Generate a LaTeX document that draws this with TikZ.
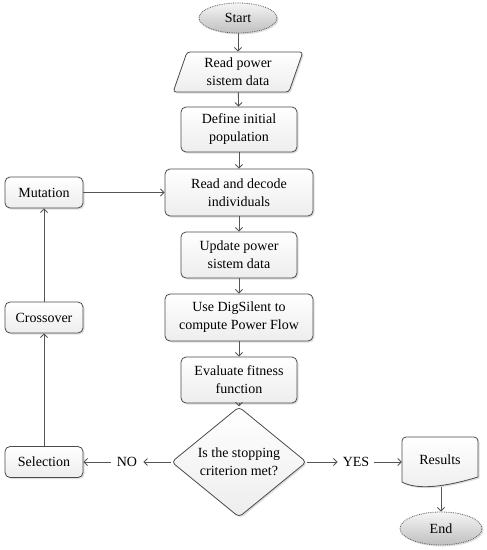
\documentclass[tikz,border=0pt]{standalone}
\usepackage{fontspec}
\setmainfont{Liberation Serif}
\usetikzlibrary{shapes.geometric,arrows.meta,shadows,positioning}
\definecolor{edge}{HTML}{4A4A4A}
\definecolor{arr}{HTML}{555555}
\tikzset{
  base/.style={draw=edge, line width=0.8pt, align=center, inner sep=2pt,
    font=\fontsize{14}{18}\selectfont, text=black,
    drop shadow={opacity=0.25, shadow xshift=1.5pt, shadow yshift=-1.5pt}},
  procbox/.style={base, rectangle, rounded corners=5pt, top color=white, bottom color=gray!14},
  termbox/.style={base, ellipse, densely dotted, draw=gray!70!black, top color=gray!8, bottom color=gray!50},
  iobox/.style={base, trapezium, trapezium left angle=73, trapezium right angle=107,
    trapezium stretches=true, rounded corners=3pt, top color=white, bottom color=gray!14},
  decbox/.style={base, diamond, rounded corners=4pt, top color=white, bottom color=gray!14, inner sep=0pt},
  lbl/.style={font=\fontsize{14}{18}\selectfont, inner sep=1pt},
  flow/.style={draw=arr, line width=0.9pt, -{Straight Barb[length=3.5pt,width=7pt]}}
}
\begin{document}
\begin{tikzpicture}[x=1pt,y=-1pt]
\useasboundingbox (0,0) rectangle (487,550);
\node[termbox, minimum width=78pt, minimum height=30pt] (start) at (238,18) {Start};
\node[iobox, minimum width=130pt, minimum height=40pt] (read) at (238,72) {Read power\\sistem data};
\node[procbox, minimum width=116pt, minimum height=45pt] (def) at (239,129.5) {Define initial\\population};
\node[procbox, minimum width=148pt, minimum height=47pt] (dec) at (239,192.5) {Read and decode\\individuals};
\node[procbox, minimum width=116pt, minimum height=46pt] (upd) at (239,255) {Update power\\sistem data};
\node[procbox, minimum width=148pt, minimum height=47pt] (dig) at (239,317.5) {Use DigSilent to\\compute Power Flow};
\node[procbox, minimum width=116pt, minimum height=46pt] (eval) at (239,380) {Evaluate fitness\\function};
\node[decbox, minimum width=135pt, minimum height=81pt] (stop) at (239,462) {Is the stopping\\criterion met?};
\node[lbl] (yes) at (356,462) {YES};
\node[lbl] (no) at (127,462) {NO};
% Results document
\path[draw=edge, line width=0.8pt, top color=white, bottom color=gray!14,
  drop shadow={opacity=0.25, shadow xshift=1.5pt, shadow yshift=-1.5pt}]
  (402,482) [rounded corners=4pt] -- (402,437) -- (478,437) [sharp corners] -- (478,477)
  .. controls (455,484) and (420,492) .. (402,482) -- cycle;
\node[lbl, minimum width=76pt, minimum height=42pt] (res) at (440,460) {Results};
\coordinate (resbot) at (441,487);
\node[termbox, minimum width=82pt, minimum height=33pt] (end) at (441,528.5) {End};
\node[procbox, minimum width=78pt, minimum height=31pt] (mut) at (44,192.5) {Mutation};
\node[procbox, minimum width=78pt, minimum height=31pt] (cro) at (44,317.5) {Crossover};
\node[procbox, minimum width=78pt, minimum height=31pt] (sel) at (44,462) {Selection};
% connectors
\draw[flow] (start) -- (read);
\draw[flow] (read) -- (def);
\draw[flow] (def) -- (dec);
\draw[flow] (dec) -- (upd);
\draw[flow] (upd) -- (dig);
\draw[flow] (dig) -- (eval);
\draw[flow] (eval) -- (stop);
\draw[flow] (stop.east) -- ([xshift=-4pt]yes.west);
\draw[flow] ([xshift=4pt]yes.east) -- (res.west |- yes.east);
\draw[flow] (resbot) -- (end.north);
\draw[flow] (stop.west) -- ([xshift=5pt]no.east);
\draw[flow] ([xshift=-5pt]no.west) -- (sel.east);
\draw[flow] (sel) -- (cro);
\draw[flow] (cro) -- (mut);
\draw[flow] (mut) -- (dec);
\end{tikzpicture}
\end{document}
